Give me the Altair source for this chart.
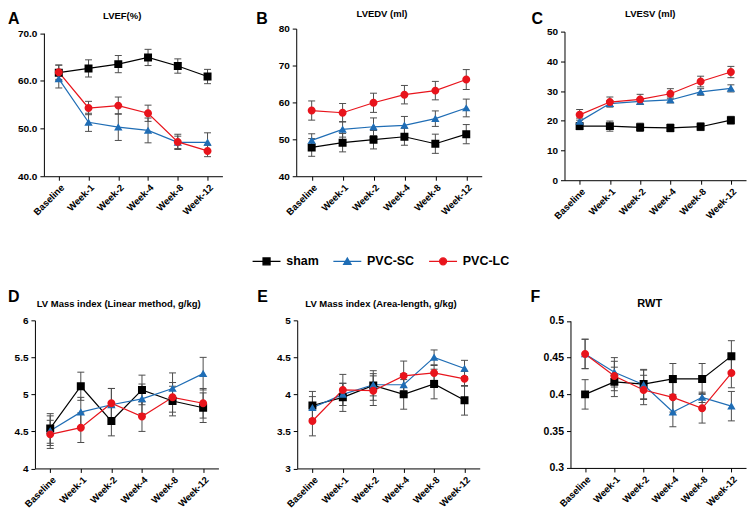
import altair as alt
import pandas as pd

FONT = "Liberation Sans"

categories = ["Baseline", "Week-1", "Week-2", "Week-4", "Week-8", "Week-12"]
groups = ["sham", "PVC-SC", "PVC-LC"]
group_colors = ["#000000", "#1f6db5", "#e8141c"]
# symbols carrying a short horizontal stroke: only the legend strokes them
group_shapes = [
    "M-4,0H4M-1,-1H1V1H-1Z",
    "M-4,0H4M0,-0.95L1.05,0.85H-1.05Z",
    "M-4,0H4M1,0A1,1,0,1,1,-1,0A1,1,0,1,1,1,0Z",
]

# A  LVEF(%)
lvef_sham = [61.7, 62.6, 63.5, 64.9, 63.1, 60.9]
lvef_sc = [60.4, 51.3, 50.3, 49.6, 47.1, 47.1]
lvef_lc = [61.8, 54.3, 54.8, 53.2, 47.2, 45.3]
lvef_sham_err = [1.6, 1.8, 1.8, 1.7, 1.5, 1.5]
lvef_sc_err = [1.9, 1.9, 2.8, 2.6, 1.3, 2.0]
lvef_lc_err = [1.5, 1.4, 1.8, 1.7, 1.6, 1.2]

# B  LVEDV (ml)
lvedv_sham = [47.8, 49.1, 49.9, 50.7, 48.8, 51.4]
lvedv_sc = [49.7, 52.7, 53.4, 53.8, 55.6, 58.5]
lvedv_lc = [57.8, 57.2, 59.9, 62.1, 63.2, 66.2]
lvedv_sham_err = [2.4, 2.5, 2.5, 2.3, 2.6, 2.6]
lvedv_sc_err = [1.8, 2.1, 2.4, 2.4, 2.1, 2.4]
lvedv_lc_err = [2.6, 2.5, 2.6, 2.5, 2.5, 2.7]

# C  LVESV (ml)
lvesv_sham = [18.2, 18.2, 17.8, 17.6, 18.0, 20.2]
lvesv_sc = [19.8, 25.8, 26.5, 27.0, 29.7, 30.9]
lvesv_lc = [22.0, 26.3, 27.2, 29.1, 33.2, 36.4]
lvesv_sham_err = [1.2, 1.7, 1.4, 1.3, 1.3, 1.3]
lvesv_sc_err = [1.1, 1.0, 1.0, 1.0, 1.1, 1.2]
lvesv_lc_err = [1.8, 1.7, 1.7, 1.7, 1.8, 1.9]

# D  LV Mass index (Linear method)
lvmi_lin_sham = [4.54, 5.11, 4.64, 5.06, 4.91, 4.82]
lvmi_lin_sc = [4.51, 4.76, 4.86, 4.94, 5.08, 5.28]
lvmi_lin_lc = [4.46, 4.55, 4.88, 4.70, 4.96, 4.88]
lvmi_lin_sham_err = [0.20, 0.19, 0.20, 0.20, 0.20, 0.20]
lvmi_lin_sc_err = [0.20, 0.20, 0.22, 0.20, 0.21, 0.22]
lvmi_lin_lc_err = [0.19, 0.20, 0.20, 0.20, 0.20, 0.20]

# E  LV Mass index (Area-length)
lvmi_al_sham = [3.85, 3.96, 4.12, 4.00, 4.14, 3.92]
lvmi_al_sc = [3.82, 4.00, 4.13, 4.13, 4.50, 4.35]
lvmi_al_lc = [3.64, 4.06, 4.05, 4.25, 4.29, 4.21]
lvmi_al_sham_err = [0.19, 0.19, 0.20, 0.20, 0.20, 0.20]
lvmi_al_sc_err = [0.15, 0.15, 0.15, 0.15, 0.10, 0.11]
lvmi_al_lc_err = [0.20, 0.21, 0.20, 0.20, 0.10, 0.10]

# F  RWT
rwt_sham = [0.400, 0.417, 0.414, 0.421, 0.421, 0.452]
rwt_sc = [0.455, 0.430, 0.413, 0.376, 0.396, 0.384]
rwt_lc = [0.455, 0.425, 0.406, 0.396, 0.381, 0.429]
rwt_sham_err = [0.020, 0.020, 0.020, 0.021, 0.021, 0.021]
rwt_sc_err = [0.020, 0.020, 0.020, 0.020, 0.007, 0.020]
rwt_lc_err = [0.020, 0.020, 0.020, 0.020, 0.020, 0.020]


def build(vals, errs):
    rows = []
    for gi, g in enumerate(groups):
        for ci, c in enumerate(categories):
            v, e = vals[gi][ci], errs[gi][ci]
            rows.append(dict(cat=c, idx=ci, group=g, val=v, lo=v - e, hi=v + e))
    return pd.DataFrame(rows)


legend = alt.Legend(
    title=None, orient="none", legendX=226, legendY=227, direction="horizontal",
    labelFont=FONT, labelFontSize=12.5, labelFontWeight="bold", labelColor="black",
    symbolSize=49, symbolStrokeWidth=1.3, symbolOpacity=1, labelOffset=13.5,
    columnPadding=11, padding=0,
)


def panel(df, letter, title, title_pos, title_size, letter_pos, dom, ticks, fmt,
          xr, yr, w, h, xoff, yoff, lab_size, with_legend=False):
    x = alt.X("cat:N", sort=categories,
              scale=alt.Scale(type="point", domain=categories, range=xr, padding=0.5),
              axis=alt.Axis(title=None, labelAngle=-45, labelFontSize=9.5,
                            labelFontWeight="bold", labelColor="black", labelFont=FONT,
                            domainColor="black", tickColor="black", tickSize=4,
                            labelPadding=2, offset=xoff, grid=False))
    ys = alt.Scale(domain=dom, range=yr, nice=False, zero=False)
    ya = alt.Axis(title=None, values=ticks, format=fmt, labelFontSize=lab_size,
                  labelFontWeight="bold", labelColor="black", labelFont=FONT,
                  domainColor="black", tickColor="black", tickSize=4, labelPadding=3,
                  offset=yoff, grid=False)
    color = alt.Color("group:N", sort=groups, scale=alt.Scale(range=group_colors), legend=None)
    base = alt.Chart(df)
    layers = [
        base.mark_rule(color="#4d4d4d", strokeWidth=1).encode(
            x=x, y=alt.Y("lo:Q", scale=ys, axis=ya), y2="hi:Q"),
        base.mark_tick(color="#4d4d4d", thickness=1, size=7, opacity=1).encode(
            x=x, y=alt.Y("lo:Q", scale=ys, axis=ya)),
        base.mark_tick(color="#4d4d4d", thickness=1, size=7, opacity=1).encode(
            x=x, y=alt.Y("hi:Q", scale=ys, axis=ya)),
        base.mark_line(strokeWidth=1.2).encode(
            x=x, y=alt.Y("val:Q", scale=ys, axis=ya), color=color, order=alt.Order("idx:Q")),
    ]
    for g, shp in zip(groups, group_shapes):
        layers.append(base.transform_filter(alt.datum.group == g).mark_point(
            filled=True, size=64, opacity=1, shape=shp).encode(
            x=x, y=alt.Y("val:Q", scale=ys, axis=ya), color=color))
    if with_legend:
        layers.append(base.mark_point(opacity=0, size=49).encode(
            x=x, y=alt.Y("val:Q", scale=ys, axis=ya),
            fill=alt.Fill("group:N", scale=alt.Scale(domain=groups, range=group_colors), legend=legend),
            stroke=alt.Stroke("group:N", scale=alt.Scale(domain=groups, range=group_colors), legend=legend),
            shape=alt.Shape("group:N", scale=alt.Scale(domain=groups, range=group_shapes), legend=legend)))
    layers.append(alt.Chart(pd.DataFrame({"t": [letter]})).mark_text(
        align="left", baseline="top", fontSize=16, fontWeight="bold", font=FONT, color="black"
    ).encode(text="t:N", x=alt.value(letter_pos[0]), y=alt.value(letter_pos[1])))
    layers.append(alt.Chart(pd.DataFrame({"t": [title]})).mark_text(
        align="center", baseline="middle", fontSize=title_size, fontWeight="bold", font=FONT, color="black"
    ).encode(text="t:N", x=alt.value(title_pos[0]), y=alt.value(title_pos[1])))
    return alt.layer(*layers).properties(width=w, height=h)


pA = panel(build([lvef_sham, lvef_sc, lvef_lc], [lvef_sham_err, lvef_sc_err, lvef_lc_err]),
           "A", "LVEF(%)", (87.5, -12.7), 9.5, (-27, -18), [40, 70], [40, 50, 60, 70], ".1f",
           [9, 188], [148, 4.5], 255, 152, -4, -9, 10, with_legend=True)
pB = panel(build([lvedv_sham, lvedv_sc, lvedv_lc], [lvedv_sham_err, lvedv_sc_err, lvedv_lc_err]),
           "B", "LVEDV (ml)", (93, -14.5), 9.5, (-33, -18), [40, 80], [40, 50, 60, 70, 80], "d",
           [7, 193], [148, 0], 270, 152, -4, -7, 10)
pC = panel(build([lvesv_sham, lvesv_sc, lvesv_lc], [lvesv_sham_err, lvesv_sc_err, lvesv_lc_err]),
           "C", "LVESV (ml)", (92, -14.3), 9.5, (-27, -18), [0, 50], [0, 10, 20, 30, 40, 50], "d",
           [6, 188], [152, 3], 188, 152, 0, -6, 10)
pD = panel(build([lvmi_lin_sham, lvmi_lin_sc, lvmi_lin_lc], [lvmi_lin_sham_err, lvmi_lin_sc_err, lvmi_lin_lc_err]),
           "D", "LV Mass index (Linear method, g/kg)", (84, -16.5), 9.5, (-27, -31.5), [4, 6],
           [4, 4.5, 5, 5.5, 6], "~g", [0, 184], [148.5, 0], 255, 148.5, 0, 0, 10)
pE = panel(build([lvmi_al_sham, lvmi_al_sc, lvmi_al_lc], [lvmi_al_sham_err, lvmi_al_sc_err, lvmi_al_lc_err]),
           "E", "LV Mass index (Area-length, g/kg)", (92, -16.5), 9.5, (-32, -31.5), [3, 5],
           [3, 3.5, 4, 4.5, 5], "~g", [8, 191], [148.5, 0], 270, 148.5, 0, -8, 10)
pF = panel(build([rwt_sham, rwt_sc, rwt_lc], [rwt_sham_err, rwt_sc_err, rwt_lc_err]),
           "F", "RWT", (91.5, -16.5), 11, (-28, -31.5), [0.3, 0.5],
           [0.3, 0.35, 0.4, 0.45, 0.5], "~g", [12, 188], [148, 0.5], 188, 148.5, -0.5, -12, 10.5)

chart = alt.concat(
    pA, pB, pC, pD, pE, pF, columns=3,
    spacing=alt.RowColnumber(row=140.5, column=0), bounds="flush",
).configure_view(stroke=None).properties(padding=0, background="white")

chart.save("out.html", embed_options={"renderer": "svg", "actions": False})
